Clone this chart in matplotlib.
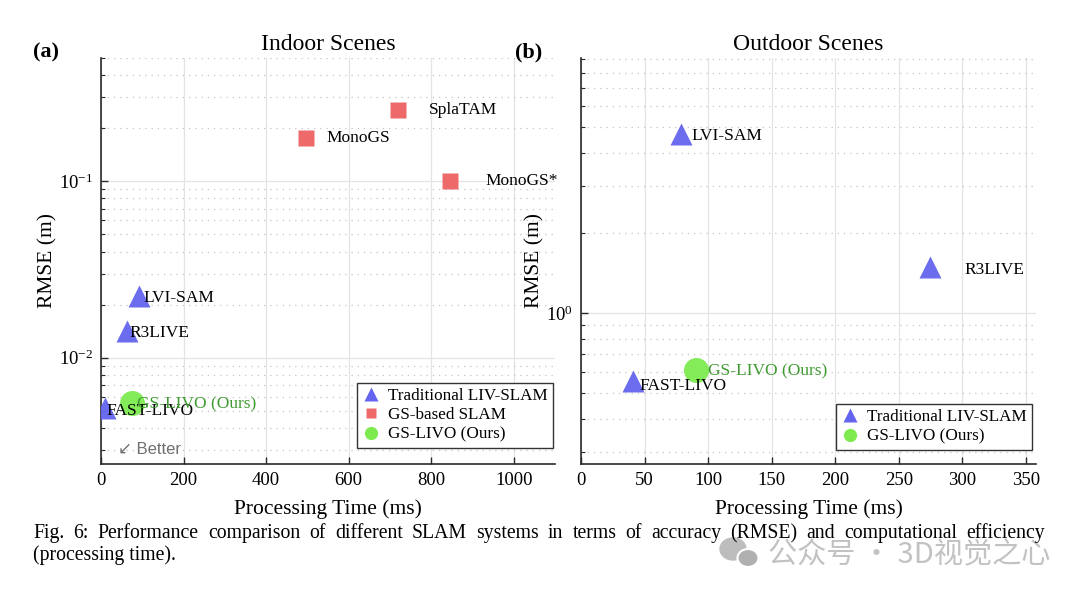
import matplotlib
matplotlib.use('Agg')
import matplotlib.pyplot as plt
from matplotlib.lines import Line2D
from matplotlib.patches import Ellipse
from matplotlib.transforms import IdentityTransform
from matplotlib.ticker import LogLocator, LogFormatterMathtext, NullFormatter, MultipleLocator

plt.rcParams['font.family'] = ['Liberation Serif', 'DejaVu Serif']
plt.rcParams['mathtext.fontset'] = 'custom'
plt.rcParams['mathtext.rm'] = 'Liberation Serif'
plt.rcParams['mathtext.it'] = 'Liberation Serif:italic'
plt.rcParams['mathtext.bf'] = 'Liberation Serif:bold'

# ---------------- data ----------------
indoor_trad_names = ['LVI-SAM', 'R3LIVE', 'FAST-LIVO']
indoor_trad_time = [91, 62, 10]
indoor_trad_rmse = [0.0224, 0.0142, 0.0052]

indoor_gs_names = ['SplaTAM', 'MonoGS', 'MonoGS*']
indoor_gs_time = [720, 497, 846]
indoor_gs_rmse = [0.254, 0.175, 0.100]

indoor_ours_name = 'GS-LIVO (Ours)'
indoor_ours_time = [74]
indoor_ours_rmse = [0.00557]

outdoor_trad_names = ['LVI-SAM', 'R3LIVE', 'FAST-LIVO']
outdoor_trad_time = [78.6, 274.5, 41.3]
outdoor_trad_rmse = [4.7, 1.49, 0.554]

outdoor_ours_name = 'GS-LIVO (Ours)'
outdoor_ours_time = [90.4]
outdoor_ours_rmse = [0.61]

legend_labels = ['Traditional LIV-SLAM', 'GS-based SLAM', 'GS-LIVO (Ours)']
titles = ['Indoor Scenes', 'Outdoor Scenes']
xlabel = 'Processing Time (ms)'
ylabel = 'RMSE (m)'
caption1 = ('Fig. 6: Performance comparison of different SLAM systems in terms of '
            'accuracy (RMSE) and computational efficiency')
caption2 = '(processing time).'
watermark = '公众号 · 3D视觉之心'

# ---------------- styles ----------------
C_TRI = '#6464EE'
C_SQ = '#EE6A6A'
C_CIR = '#7DEB50'
C_OURS_TXT = '#3E9A30'
SPINE = '#2a2a2a'
PX = 0.72  # px -> pt at 100 dpi

W, H = 1080, 594
fig = plt.figure(figsize=(W / 100, H / 100), dpi=100)
fig.patch.set_facecolor('white')

def fr(x0, y0, x1, y1):
    return [x0 / W, 1 - y1 / H, (x1 - x0) / W, (y1 - y0) / H]

axL = fig.add_axes(fr(101, 58, 555, 464))
axR = fig.add_axes(fr(581, 58, 1036, 464))

def style_axes(ax, xmaj):
    ax.set_yscale('log')
    for s in ['top', 'right']:
        ax.spines[s].set_visible(False)
    for s in ['left', 'bottom']:
        ax.spines[s].set_color(SPINE)
        ax.spines[s].set_linewidth(1.2)
    ax.xaxis.set_major_locator(MultipleLocator(xmaj))
    ax.yaxis.set_major_locator(LogLocator(base=10))
    ax.yaxis.set_major_formatter(LogFormatterMathtext())
    ax.yaxis.set_minor_locator(LogLocator(base=10, subs=range(2, 10)))
    ax.yaxis.set_minor_formatter(NullFormatter())
    ax.tick_params(axis='both', which='major', direction='in', length=5,
                   width=1.0, color=SPINE, labelsize=13.5, pad=6)
    ax.tick_params(axis='y', which='minor', direction='in', length=3,
                   width=0.8, color=SPINE)
    ax.grid(True, which='major', axis='both', color='#e4e4e4', lw=0.9, ls='-')
    ax.grid(True, which='minor', axis='y', color='#c4c4c4', lw=0.9,
            ls=(0, (1, 4)))
    ax.set_axisbelow(True)
    ax.set_xlabel(xlabel, fontsize=15.5, labelpad=7)
    ax.set_ylabel(ylabel, fontsize=15.5, labelpad=1)

style_axes(axL, 200)
style_axes(axR, 50)

axL.set_xlim(0, 1100)
axL.set_ylim(0.0025, 0.5)
axR.set_xlim(0, 358)
axR.set_ylim(0.27, 9.1)

axL.set_title(titles[0], fontsize=17)
axR.set_title(titles[1], fontsize=17)

TRI_MS, SQ_MS, CIR_MS = 16.5, 11.5, 18

def label(ax, x, y, txt, dx, dy, color='black'):
    ax.annotate(txt, (x, y), xytext=(dx * PX, -dy * PX), textcoords='offset points',
                ha='left', va='center', fontsize=12.5, color=color, zorder=6)

# ---- indoor ----
axL.plot(indoor_trad_time, indoor_trad_rmse, ls='none', marker='^', ms=TRI_MS,
         color=C_TRI, mec='none', alpha=0.95, zorder=4)
axL.plot(indoor_gs_time, indoor_gs_rmse, ls='none', marker='s', ms=SQ_MS,
         color=C_SQ, mec='none', zorder=4)
axL.plot(indoor_ours_time, indoor_ours_rmse, ls='none', marker='o', ms=CIR_MS,
         color=C_CIR, mec='none', alpha=0.95, zorder=5)

offL_trad = [(4.5, 2), (2.6, 2), (1.5, 3)]
offL_gs = [(31, 0), (20, 0), (35, 0)]
for n, x, y, o in zip(indoor_trad_names, indoor_trad_time, indoor_trad_rmse, offL_trad):
    label(axL, x, y, n, *o)
for n, x, y, o in zip(indoor_gs_names, indoor_gs_time, indoor_gs_rmse, offL_gs):
    label(axL, x, y, n, *o)
label(axL, indoor_ours_time[0], indoor_ours_rmse[0], indoor_ours_name, 5, 2, C_OURS_TXT)

axL.text(0.037, 0.0345, '\u2199 Better', transform=axL.transAxes, ha='left',
         va='center', fontsize=12, color='#707070',
         family=['Liberation Sans', 'DejaVu Sans'])

hL = [Line2D([], [], ls='none', marker='^', ms=10.5, color=C_TRI, mec='none'),
      Line2D([], [], ls='none', marker='s', ms=7, color=C_SQ, mec='none'),
      Line2D([], [], ls='none', marker='o', ms=9.5, color=C_CIR, mec='none')]
legL = axL.legend(hL, legend_labels, loc='lower right',
                  bbox_to_anchor=(0.9956, 0.0394), borderaxespad=0,
                  fontsize=12.3, frameon=True, fancybox=False, framealpha=1,
                  edgecolor='#333333', borderpad=0.3, labelspacing=0.2,
                  handlelength=1.0, handletextpad=0.5)
legL.get_frame().set_linewidth(1.0)

# ---- outdoor ----
axR.plot(outdoor_trad_time, outdoor_trad_rmse, ls='none', marker='^', ms=TRI_MS,
         color=C_TRI, mec='none', alpha=0.95, zorder=4)
axR.plot(outdoor_ours_time, outdoor_ours_rmse, ls='none', marker='o', ms=CIR_MS,
         color=C_CIR, mec='none', alpha=0.95, zorder=5)
offR_trad = [(11, 2), (35, 3), (6, 4.5)]
for n, x, y, o in zip(outdoor_trad_names, outdoor_trad_time, outdoor_trad_rmse, offR_trad):
    label(axR, x, y, n, *o)
label(axR, outdoor_ours_time[0], outdoor_ours_rmse[0], outdoor_ours_name, 12.5, 1, C_OURS_TXT)

hR = [hL[0], hL[2]]
legR = axR.legend(hR, [legend_labels[0], legend_labels[2]], loc='lower right',
                  bbox_to_anchor=(0.991, 0.0345), borderaxespad=0,
                  fontsize=12.3, frameon=True, fancybox=False, framealpha=1,
                  edgecolor='#333333', borderpad=0.3, labelspacing=0.2,
                  handlelength=1.0, handletextpad=0.5)
legR.get_frame().set_linewidth(1.0)

# panel labels
fig.text(33 / W, 1 - 52 / H, '(a)', fontsize=16, fontweight='bold', va='center', ha='left')
fig.text(515 / W, 1 - 52 / H, '(b)', fontsize=16, fontweight='bold', va='center', ha='left')

# ---- caption (justified first line) ----
renderer = fig.canvas.get_renderer()
CAP_FS = 14.2
x_left, x_right = 33, 1045
base1, base2 = 538, 560
words = caption1.split(' ')
objs = [fig.text(0, 1 - base1 / H, w, fontsize=CAP_FS, va='baseline', ha='left', zorder=12)
        for w in words]
widths = [o.get_window_extent(renderer).width for o in objs]
gap = (x_right - x_left - sum(widths)) / (len(words) - 1)
xc = x_left
for o, wdt in zip(objs, widths):
    o.set_x(xc / W)
    xc += wdt + gap
fig.text(x_left / W, 1 - base2 / H, caption2, fontsize=CAP_FS, va='baseline', ha='left')

# ---- watermark ----
fig.text(768 / W, 1 - 555 / H, watermark, fontsize=21, color='#bcbcbc',
         va='center', ha='left', family=['Noto Sans CJK SC', 'DejaVu Sans'],
         alpha=0.9, zorder=9)
e1 = Ellipse((733, H - 549), 26, 22, transform=IdentityTransform(), color='#bdbdbd', zorder=10)
e2 = Ellipse((748, H - 558), 21, 18, transform=IdentityTransform(), fc='#b0b0b0', ec='white', lw=1.5, zorder=11)
fig.add_artist(e1)
fig.add_artist(e2)

fig.savefig('out.png', dpi=100)
